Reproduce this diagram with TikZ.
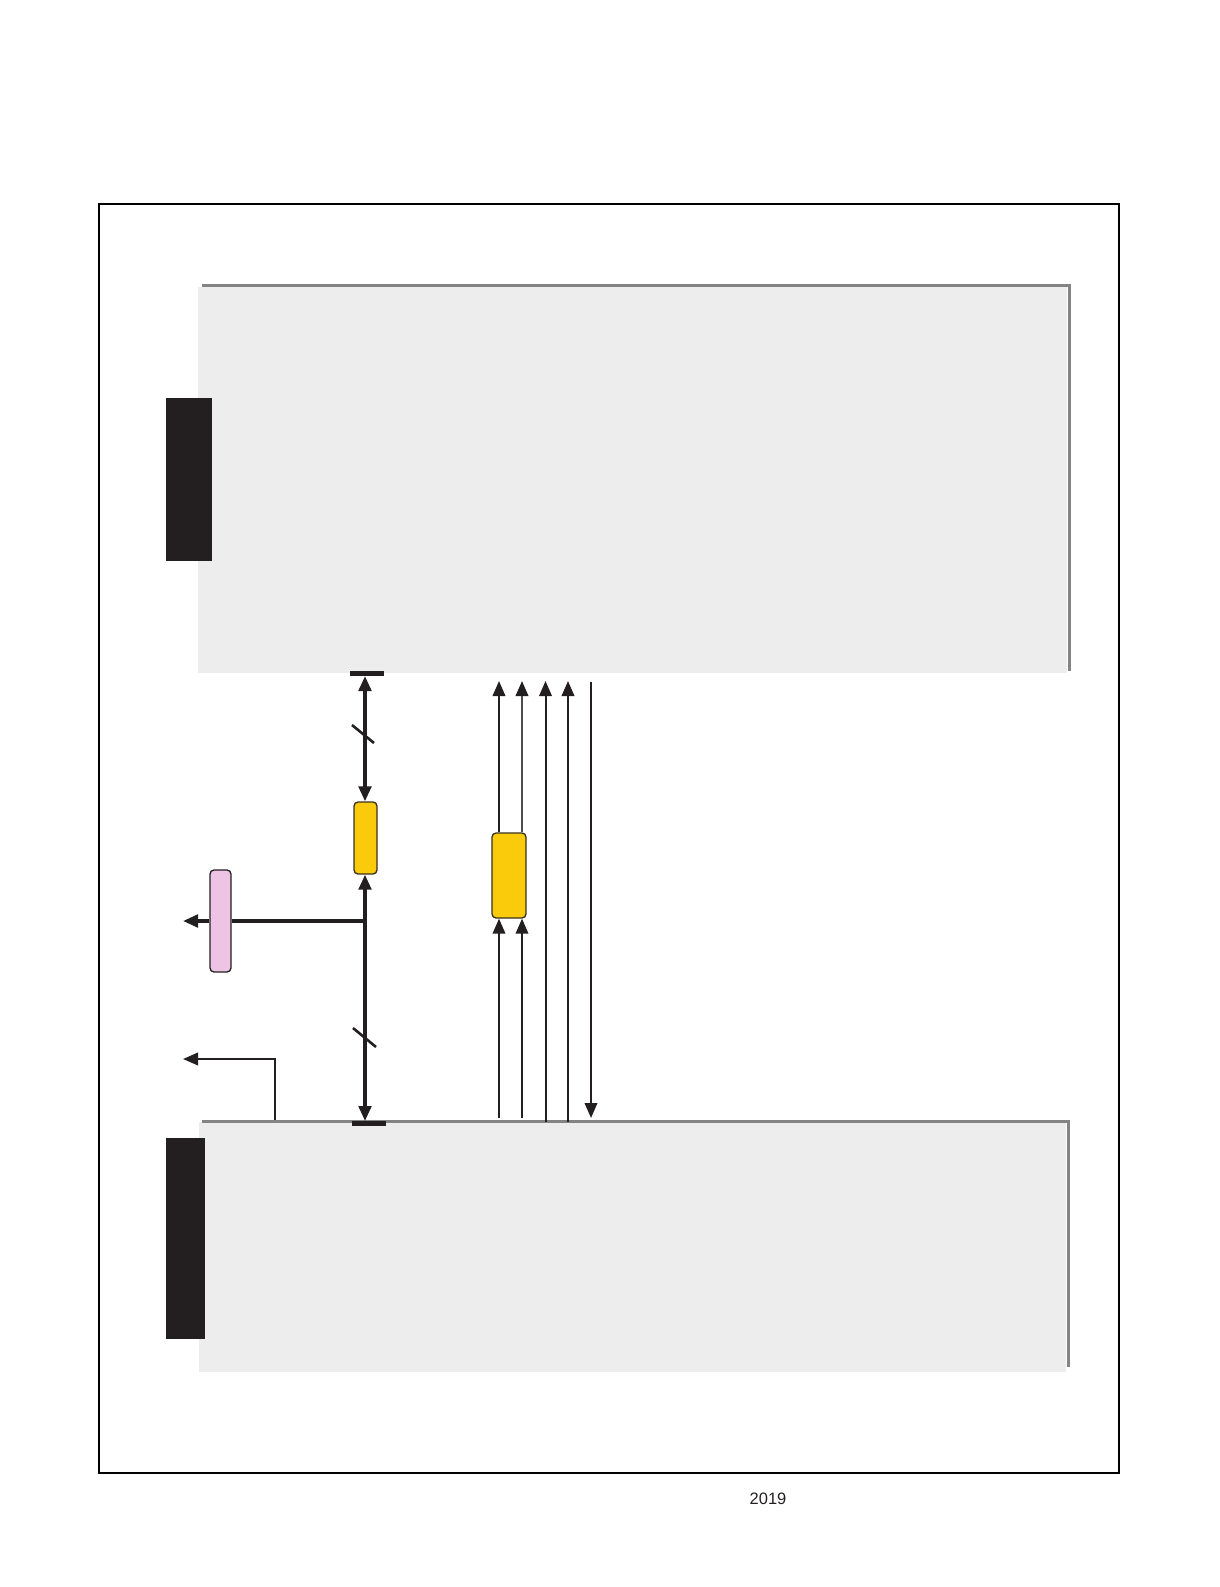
\documentclass[tikz,border=0pt]{standalone}
\usepackage{fontspec}
\setmainfont{Liberation Sans}
\usetikzlibrary{arrows.meta}
\definecolor{panelfill}{HTML}{EDEDED}
\definecolor{panelline}{HTML}{848484}
\definecolor{blk}{HTML}{231F20}
\definecolor{yel}{HTML}{F9CB0A}
\definecolor{pnk}{HTML}{EEC4E5}
\tikzset{
  tip/.style={-{Triangle[length=15pt,width=12.5pt,color=blk]}},
  bothtip/.style={{Triangle[length=15pt,width=12.5pt]}-{Triangle[length=15pt,width=12.5pt]}},
  thickwire/.style={line width=3.5pt,draw=blk},
  thinwire/.style={line width=2pt,draw=blk},
  ybox/.style={draw=blk!90!yel,line width=1.3pt,fill=yel,rounded corners=4pt,inner sep=0pt},
  pbox/.style={draw=blk,line width=1.3pt,fill=pnk,rounded corners=4pt,inner sep=0pt},
  blkblock/.style={fill=blk},
  edge/.style={line width=3pt,draw=panelline},
  capbar/.style={line width=5pt,draw=blk},
  slash/.style={line width=2.6pt,draw=blk}
}
\begin{document}
\begin{tikzpicture}[x=1pt,y=-1pt]
\useasboundingbox (0,0) rectangle (1219,1587);
% outer frame
\draw[line width=1.2pt,black] (99,204) rectangle (1119,1473);
% upper panel
\fill[panelfill] (198,287) rectangle (1067,673);
\draw[edge] (202,285) -- (1069.5,285) -- (1069.5,671);
\fill[blkblock] (166,398) rectangle (212,561);
% lower panel
\fill[panelfill] (199,1122) rectangle (1066,1372);
\draw[edge] (202,1121) -- (1068.5,1121) -- (1068.5,1367);
\fill[blkblock] (166,1138) rectangle (205,1339);
% nodes
\node[ybox,minimum width=23pt,minimum height=72pt] (y1) at (365.5,838) {};
\node[ybox,minimum width=34pt,minimum height=85pt] (y2) at (509,875.5) {};
\node[pbox,minimum width=21pt,minimum height=102pt] (pk) at (220.5,921) {};
% cap bars
\draw[capbar] (350,673.5) -- (384,673.5);
\draw[capbar] (352,1123.5) -- (386,1123.5);
% main bus
\coordinate (busT) at (365,676);
\coordinate (busB) at (365,1121);
\coordinate (junc) at (365,921);
\coordinate (outL) at (183,921);
\draw[thickwire,bothtip] (busT) -- (y1.north -| busT);
\draw[thickwire,bothtip] (busB) -- (y1.south -| busB);
\draw[thickwire] (junc) -- (pk.east);
\draw[thickwire,tip] (pk.west) -- (outL);
\draw[slash] (352,725) -- (374,743);
\draw[slash] (353,1028) -- (376,1047);
% left elbow
\coordinate (e0) at (275,1120);
\coordinate (e1) at (275,1059);
\coordinate (e2) at (183,1059);
\draw[thinwire,tip] (e0) -- (e1) -- (e2);
% vertical signal lines
\coordinate (a1) at (499,681);
\coordinate (a2) at (522,681);
\coordinate (a3) at (545.5,681);
\coordinate (a4) at (568,681);
\coordinate (a5) at (591,682);
\coordinate (b1) at (499,1118);
\coordinate (b2) at (522,1118);
\coordinate (b3) at (545.5,1122);
\coordinate (b4) at (568,1122);
\coordinate (b5) at (591,1118);
\draw[thinwire,tip] (y2.north -| a1) -- (a1);
\draw[thinwire,tip,draw=blk!80] (y2.north -| a2) -- (a2);
\draw[thinwire,tip] (b1) -- (y2.south -| b1);
\draw[thinwire,tip] (b2) -- (y2.south -| b2);
\draw[thinwire,tip] (b3) -- (a3);
\draw[thinwire,tip] (b4) -- (a4);
\draw[thinwire,tip] (a5) -- (b5);
% year
\node[font=\fontsize{16.5pt}{18pt}\selectfont,text=blk] (yr) at (768,1499) {2019};
\end{tikzpicture}
\end{document}
